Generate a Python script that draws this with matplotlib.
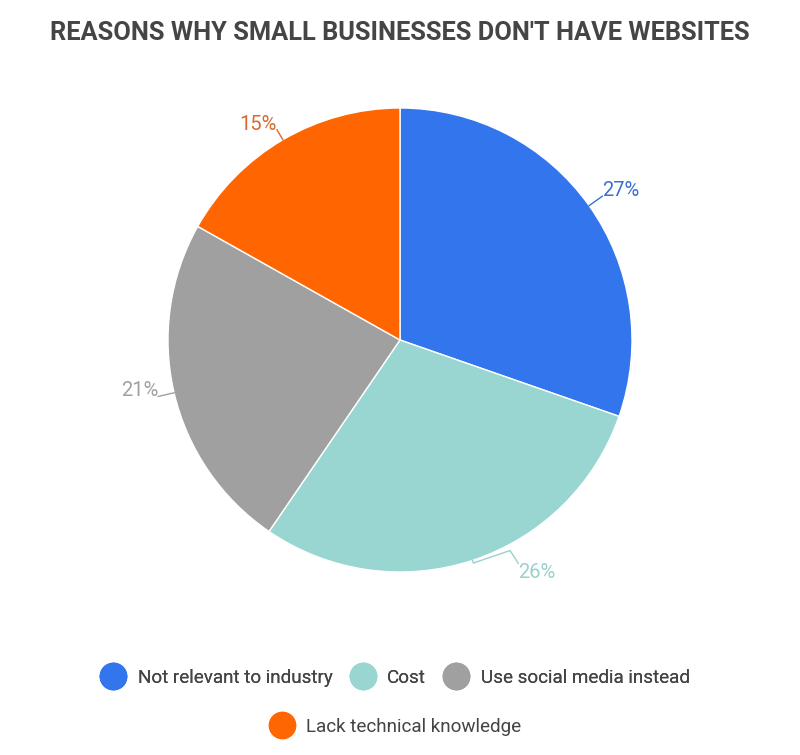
import numpy as np
import matplotlib.pyplot as plt
from matplotlib.lines import Line2D

plt.rcParams['font.family'] = ['Roboto', 'DejaVu Sans']

labels = ['Not relevant to industry', 'Cost', 'Use social media instead', 'Lack technical knowledge']
values = [27, 26, 21, 15]
colors = ['#3275EC', '#99D6D1', '#A0A0A0', '#FF6500']
text_colors = ['#3A6FD0', '#99D1CC', '#A0A0A0', '#D9692F']

# leader line shapes: (radius, angle offset from slice middle in degrees)
leaders = [
    [(1.0, 0), (1.07, 0)],
    [(1.0, 0), (1.012, 0), (1.024, 9.4), (1.089, 9.7)],
    [(1.0, 0), (1.07, 0)],
    [(1.0, 0), (1.05, 0)],
]
text_dy = [0.0, -0.065, 0.0, 0.0]

fig = plt.figure(figsize=(8, 7.55), dpi=100)
ax = fig.add_axes([0.5 - 0.29, 1 - 340/755 - 0.3073, 0.58, 0.6146])
wedges, _ = ax.pie(values, colors=colors, startangle=90, counterclock=False,
                   wedgeprops=dict(edgecolor='white', linewidth=1))
ax.set_xlim(-1, 1)
ax.set_ylim(-1, 1)
ax.set_aspect('equal')
ax.axis('off')

for i, w in enumerate(wedges):
    mid = (w.theta1 + w.theta2) / 2
    xs = [r * np.cos(np.deg2rad(mid + a)) for r, a in leaders[i]]
    ys = [r * np.sin(np.deg2rad(mid + a)) for r, a in leaders[i]]
    ax.plot(xs, ys, color=text_colors[i], lw=1, clip_on=False)
    ha = 'left' if xs[-1] > 0 else 'right'
    ax.text(xs[-1], ys[-1] + text_dy[i], f'{values[i]}%', color=text_colors[i],
            fontsize=14.5, ha=ha, va='baseline')

fig.text(0.5, 1 - 33/755, "REASONS WHY SMALL BUSINESSES DON'T HAVE WEBSITES",
         ha='center', va='center', fontsize=18.3, fontweight='bold', color='#454545')

handles = [Line2D([], [], marker='o', linestyle='', markersize=19,
                  markerfacecolor=c, markeredgecolor=c) for c in colors]
leg1 = fig.legend(handles[:3], labels[:3], loc='center', bbox_to_anchor=(0.49, 1 - 678/755),
                  ncol=3, frameon=False, fontsize=13.6, handletextpad=0.3, columnspacing=0.6,
                  labelcolor='#444444')
fig.legend(handles[3:], labels[3:], loc='center', bbox_to_anchor=(0.49, 1 - 727/755),
           ncol=1, frameon=False, fontsize=13.6, handletextpad=0.3, labelcolor='#444444')
fig.add_artist(leg1)

fig.savefig('out.png', dpi=100, facecolor='white')
